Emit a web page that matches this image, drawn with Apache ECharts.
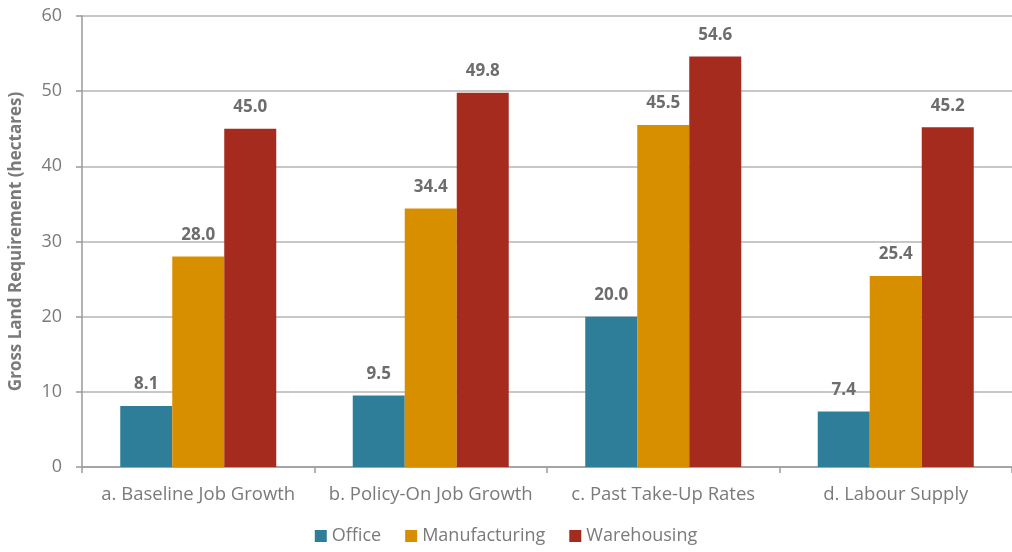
<!DOCTYPE html>
<html><head><meta charset="utf-8">
<script src="https://cdn.jsdelivr.net/npm/echarts@6/dist/echarts.min.js"></script>
<style>html,body{margin:0;padding:0;background:#fff}#c{width:1012px;height:552px}</style>
</head><body><div id="c"></div>
<script>
const categories = ['a. Baseline Job Growth','b. Policy-On Job Growth','c. Past Take-Up Rates','d. Labour Supply'];
const office = [8.1, 9.5, 20.0, 7.4];
const manufacturing = [28.0, 34.4, 45.5, 25.4];
const warehousing = [45.0, 49.8, 54.6, 45.2];
const yTicks = {min: 0, max: 60, interval: 10};

const font = '"Open Sans", sans-serif';
const labelStyle = {show: true, position: 'top', distance: 13, formatter: p => p.value.toFixed(1), color: '#6d6d6d', fontWeight: 'bold', fontSize: 17, fontFamily: font};
function s(name, data, color){
  return {name, type: 'bar', data, barWidth: 52, barGap: '0%', itemStyle: {color}, label: labelStyle};
}
const chart = echarts.init(document.getElementById('c'));
chart.setOption({
  animation: false,
  textStyle: {fontFamily: font},
  grid: {left: 80, top: 16, width: 937, bottom: 85, containLabel: false},
  legend: {bottom: 2, left: 'center', itemWidth: 12, itemHeight: 12, itemGap: 24, icon: 'rect',
    textStyle: {color: '#7a7a7a', fontSize: 18, fontFamily: font}, data: ['Office','Manufacturing','Warehousing']},
  xAxis: {type: 'category', data: categories,
    axisLine: {lineStyle: {color: '#9a9a9a', width: 1.5}},
    axisTick: {show: true, alignWithLabel: false, length: 6, lineStyle: {color: '#9a9a9a', width: 1.5}},
    axisLabel: {interval: 0, color: '#7a7a7a', fontSize: 18.5, margin: 18, fontFamily: font}},
  yAxis: {type: 'value', min: yTicks.min, max: yTicks.max, interval: yTicks.interval,
    name: 'Gross Land Requirement (hectares)', nameLocation: 'middle', nameGap: 57, nameRotate: 90,
    nameTextStyle: {color: '#7a7a7a', fontSize: 17, fontWeight: 'bold', fontFamily: font},
    axisLine: {show: true, lineStyle: {color: '#9a9a9a', width: 1.5}},
    axisTick: {show: true, length: 6, lineStyle: {color: '#9a9a9a', width: 1.5}},
    axisLabel: {color: '#7a7a7a', fontSize: 18, margin: 20, fontFamily: font},
    splitLine: {lineStyle: {color: '#b5b5b5', width: 1.5}}},
  series: [s('Office', office, '#2E7E9A'), s('Manufacturing', manufacturing, '#D78F00'), s('Warehousing', warehousing, '#A42B1E')]
});
</script></body></html>
